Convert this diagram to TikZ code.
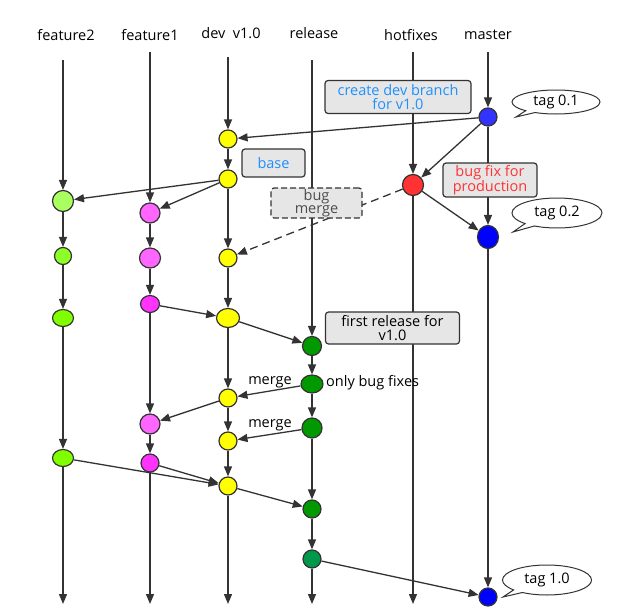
\documentclass[tikz,border=0pt]{standalone}
\usepackage{fontspec}
\setmainfont{Open Sans}
\usetikzlibrary{arrows.meta, shapes.geometric, shapes.callouts}
\definecolor{edge}{HTML}{333333}
\definecolor{notefill}{HTML}{E6E6E6}
\definecolor{masterA}{HTML}{3333FF}
\definecolor{masterB}{HTML}{0000FF}
\definecolor{hotred}{HTML}{FF3333}
\definecolor{devyel}{HTML}{FFFF00}
\definecolor{pinkA}{HTML}{FF66FF}
\definecolor{pinkB}{HTML}{FF33FF}
\definecolor{limeA}{HTML}{A8FF5E}
\definecolor{limeB}{HTML}{8CFF26}
\definecolor{limeC}{HTML}{80FF00}
\definecolor{relA}{HTML}{009900}
\definecolor{relB}{HTML}{00994C}
\definecolor{txtblue}{HTML}{1E90FF}
\definecolor{txtgray}{HTML}{4D4D4D}
\tikzset{%
	commit/.style={draw=edge, line width=1.2pt, ellipse, inner sep=0pt,%
		minimum width=18pt, minimum height=18pt},
	sz/.style 2 args={minimum width=#1pt, minimum height=#2pt},
	flow/.style={draw=edge, line width=1.3pt, -{Triangle[length=10pt, width=8pt]}},
	trunk/.style={draw=edge, line width=1.3pt},
	note/.style={draw=edge, line width=1.2pt, fill=notefill, rounded corners=3pt,%
		align=center, inner sep=0pt, font=\fontsize{14.5}{13.5}\selectfont},
	tagball/.style={ellipse callout, draw=edge, line width=1pt, inner sep=0pt,%
		font=\fontsize{14.5}{15}\selectfont},
	branch/.style={font=\fontsize{14.5}{15}\selectfont},
	plain/.style={font=\fontsize{14.5}{15}\selectfont, inner sep=0pt}
}
\begin{document}
\begin{tikzpicture}[x=1pt, y=-1pt]
	\useasboundingbox (0,0) rectangle (619,616);

	\node[branch] (lf2) at (66,35)  {feature2};
	\node[branch] (lf1) at (150,35) {feature1};
	\node[branch] (ldev) at (231,33) {dev\ \ v1.0};
	\node[branch] (lrel) at (314,33) {release};
	\node[branch] (lhot) at (411,35) {hotfixes};
	\node[branch] (lmas) at (488,35) {master};

	\coordinate (f2top) at (63,60);
	\coordinate (f1top) at (150,52);
	\coordinate (devtop) at (228,57);
	\coordinate (reltop) at (312,60);
	\coordinate (hottop) at (413,52);
	\coordinate (mastop) at (488,52);
	\coordinate (f2end) at (63,604);
	\coordinate (f1end) at (150,604);
	\coordinate (devend) at (228,604);
	\coordinate (relend) at (312,604);
	\coordinate (hotend) at (413,604);

	\node[commit, fill=masterA] (m1) at (488,117) {};
	\node[commit, fill=masterB, sz={21}{23}] (m2) at (488,237) {};
	\node[commit, fill=masterB] (m3) at (488,597) {};
	\node[commit, fill=hotred, sz={21}{21}] (h1) at (413,185) {};

	\node[commit, fill=devyel] (d1) at (228,139) {};
	\node[commit, fill=devyel] (d2) at (228,179) {};
	\node[commit, fill=devyel] (d3) at (228,258) {};
	\node[commit, fill=devyel, sz={23}{19}] (d4) at (228,318) {};
	\node[commit, fill=devyel] (d5) at (228,398) {};
	\node[commit, fill=devyel] (d6) at (228,441) {};
	\node[commit, fill=devyel] (d7) at (228,486) {};

	\node[commit, fill=pinkA, sz={20}{20}] (f1a) at (150,213) {};
	\node[commit, fill=pinkA, sz={21}{20}] (f1b) at (150,258) {};
	\node[commit, fill=pinkB, sz={19}{17}] (f1c) at (150,304) {};
	\node[commit, fill=pinkA, sz={20}{20}] (f1d) at (150,424) {};
	\node[commit, fill=pinkB] (f1e) at (150,463) {};

	\node[commit, fill=limeA, sz={21}{21}] (f2a) at (63,201) {};
	\node[commit, fill=limeB, sz={17}{17}] (f2b) at (63,256) {};
	\node[commit, fill=limeC, sz={21}{17}] (f2c) at (63,318) {};
	\node[commit, fill=limeC, sz={21}{17}] (f2d) at (63,458) {};

	\node[commit, fill=relA, sz={19}{19}] (r1) at (312,346) {};
	\node[commit, fill=relA, sz={22}{18}] (r2) at (312,384) {};
	\node[commit, fill=relA, sz={20}{20}] (r3) at (312,428) {};
	\node[commit, fill=relA] (r4) at (312,509) {};
	\node[commit, fill=relB] (r5) at (312,559) {};

	\draw[flow] (mastop) to (m1);
	\draw[flow] (m1) to (d1);
	\draw[flow] (m1) to (h1);
	\draw[flow] (m1) to (m2);
	\draw[flow] (m2) to (m3);
	\draw[flow] (hottop) to (h1);
	\draw[flow] (h1) to (m2);
	\draw[flow] (h1) to (hotend);
	\draw[flow, dashed, dash pattern=on 8pt off 5pt] (h1) to (d3);

	\draw[flow] (devtop) to (d1);
	\draw[flow] (d1) to (d2);
	\draw[flow] (d2) to (f2a);
	\draw[flow] (d2) to (f1a);
	\draw[flow] (d2) to (d3);
	\draw[flow] (d3) to (d4);
	\draw[flow] (d4) to (r1);
	\draw[flow] (d4) to (d5);
	\draw[flow] (d5) to (f1d);
	\draw[flow] (d5) to (d6);
	\draw[flow] (d6) to (d7);
	\draw[flow] (d7) to (r4);
	\draw[flow] (d7) to (devend);

	\draw[flow] (f1top) to (f1a);
	\draw[flow] (f1a) to (f1b);
	\draw[flow] (f1b) to (f1c);
	\draw[flow] (f1c) to (d4);
	\draw[flow] (f1c) to (f1d);
	\draw[flow] (f1d) to (f1e);
	\draw[flow] (f1e) to (d7);
	\draw[flow] (f1e) to (f1end);

	\draw[flow] (f2top) to (f2a);
	\draw[flow] (f2a) to (f2b);
	\draw[flow] (f2b) to (f2c);
	\draw[flow] (f2c) to (f2d);
	\draw[flow] (f2d) to (d7);
	\draw[flow] (f2d) to (f2end);

	\draw[flow] (reltop) to (r1);
	\draw[flow] (r1) to (r2);
	\draw[flow] (r2) to (d5);
	\draw[flow] (r2) to (r3);
	\draw[flow] (r3) to (d6);
	\draw[flow] (r3) to (r4);
	\draw[flow] (r4) to (r5);
	\draw[flow] (r5) to (m3);
	\draw[flow] (r5) to (relend);

	\node[note, text=txtblue, minimum width=146pt, minimum height=33pt] (nbranch) at (398,97) {create dev branch\\for v1.0};
	\node[note, text=txtblue, minimum width=63pt, minimum height=28pt] (nbase) at (273.5,163) {base};
	\node[note, text=txtgray, dashed, dash pattern=on 6pt off 3pt, minimum width=91pt, minimum height=30pt] (nbug) at (316.5,203) {bug\\merge};
	\node[note, text=hotred, minimum width=94pt, minimum height=34pt] (nfix) at (490,180) {bug fix for\\production};
	\node[note, minimum width=134pt, minimum height=32pt] (nrel) at (392.5,328) {first release for\\v1.0};

	\node[plain, anchor=west] (only) at (326,383) {only bug fixes};
	\node[plain] (mg1) at (270,382) {merge};
	\node[plain] (mg2) at (270,425) {merge};

	\node[tagball, minimum width=88pt, minimum height=24pt, callout absolute pointer={(516,117)}] (t1) at (556,102) {tag 0.1};
	\node[tagball, minimum width=90pt, minimum height=30pt, callout absolute pointer={(513,232)}] (t2) at (557,213) {tag 0.2};
	\node[tagball, minimum width=89pt, minimum height=30pt, callout absolute pointer={(503,597)}] (t3) at (547,580) {tag 1.0};
\end{tikzpicture}
\end{document}
